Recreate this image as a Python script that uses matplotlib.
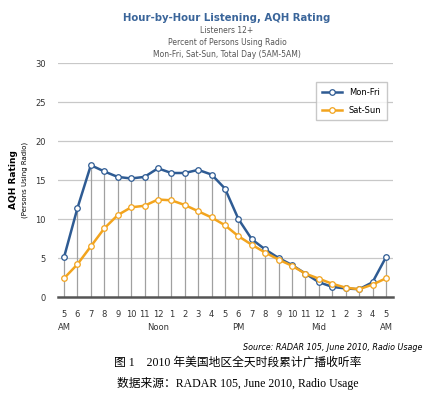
import matplotlib.pyplot as plt

hours = ['5', '6', '7', '8', '9', '10', '11', '12', '1', '2', '3', '4', '5',
         '6', '7', '8', '9', '10', '11', '12', '1', '2', '3', '4', '5']
mon_fri = [5.1, 11.4, 16.9, 16.1, 15.4, 15.2, 15.4, 16.5, 15.9, 15.9, 16.3, 15.7, 13.9,
           10.0, 7.4, 6.1, 5.0, 4.1, 3.0, 1.9, 1.3, 1.1, 1.0, 1.9, 5.1]
sat_sun = [2.4, 4.2, 6.5, 8.8, 10.5, 11.5, 11.7, 12.5, 12.4, 11.8, 11.0, 10.2, 9.2,
           7.8, 6.7, 5.7, 4.8, 4.0, 3.0, 2.35, 1.7, 1.2, 1.0, 1.6, 2.4]
periods = {0: 'AM', 7: 'Noon', 13: 'PM', 19: 'Mid', 24: 'AM'}

x = list(range(len(hours)))
blue = '#2E5B93'
orange = '#F2A41E'

fig = plt.figure(figsize=(4.41, 3.95), dpi=100)
ax = fig.add_axes([0.1315, 0.248, 0.7595, 0.5925])

for v in [5, 10, 15, 20, 25, 30]:
    ax.axhline(v, color='#c8c8c8', lw=0.9, zorder=0)
tops = [max(a, b) for a, b in zip(mon_fri, sat_sun)]
ax.vlines(x, 0, tops, color='#a0a0a0', lw=0.9, zorder=1)

ax.plot(x, mon_fri, color=blue, lw=1.8, marker='o', ms=4, mfc='white',
        mec=blue, mew=0.9, label='Mon-Fri', zorder=3)
ax.plot(x, sat_sun, color=orange, lw=1.8, marker='o', ms=4, mfc='white',
        mec=orange, mew=0.9, label='Sat-Sun', zorder=3)

ax.set_xlim(-0.45, 24.52)
ax.set_ylim(0, 30)
for s in ['top', 'right', 'left']:
    ax.spines[s].set_visible(False)
ax.spines['bottom'].set_color('#555555')
ax.spines['bottom'].set_linewidth(1.8)
ax.set_yticks([0, 5, 10, 15, 20, 25, 30])
ax.tick_params(axis='y', length=0, labelsize=6, pad=9, colors='#333333')
ax.set_xticks(x)
ax.set_xticklabels(hours)
ax.tick_params(axis='x', length=0, labelsize=6, pad=9, colors='#333333')
for i, p in periods.items():
    ax.text(i, -3.9, p, ha='center', va='center', fontsize=6, color='#333333')

ax.legend(loc='upper right', bbox_to_anchor=(0.995, 0.935), fontsize=6,
          frameon=True, fancybox=False, edgecolor='#bbbbbb', handlelength=2.4,
          borderpad=0.7, labelspacing=1.0)

fig.text(0.03, 0.545, 'AQH Rating', rotation=90, ha='center', va='center',
         fontsize=6.5, fontweight='bold')
fig.text(0.056, 0.545, '(Persons Using Radio)', rotation=90, ha='center',
         va='center', fontsize=5)

fig.text(0.515, 0.955, 'Hour-by-Hour Listening, AQH Rating', ha='center',
         va='center', fontsize=7.3, fontweight='bold', color='#3A659A')
fig.text(0.515, 0.922, 'Listeners 12+', ha='center', va='center', fontsize=5.5, color='#555555')
fig.text(0.515, 0.892, 'Percent of Persons Using Radio', ha='center', va='center',
         fontsize=5.5, color='#555555')
fig.text(0.515, 0.862, 'Mon-Fri, Sat-Sun, Total Day (5AM-5AM)', ha='center',
         va='center', fontsize=5.5, color='#555555')

fig.text(0.957, 0.121, 'Source: RADAR 105, June 2010, Radio Usage', ha='right',
         va='center', fontsize=5.8, style='italic')
cap_font = ['Liberation Serif', 'Noto Sans CJK SC']
fig.text(0.54, 0.083, '图 1    2010 年美国地区全天时段累计广播收听率', ha='center',
         va='center', fontsize=8.5, family=cap_font)
fig.text(0.54, 0.028, '数据来源：RADAR 105, June 2010, Radio Usage', ha='center',
         va='center', fontsize=8.5, family=cap_font)

fig.savefig('out.png', dpi=100)
